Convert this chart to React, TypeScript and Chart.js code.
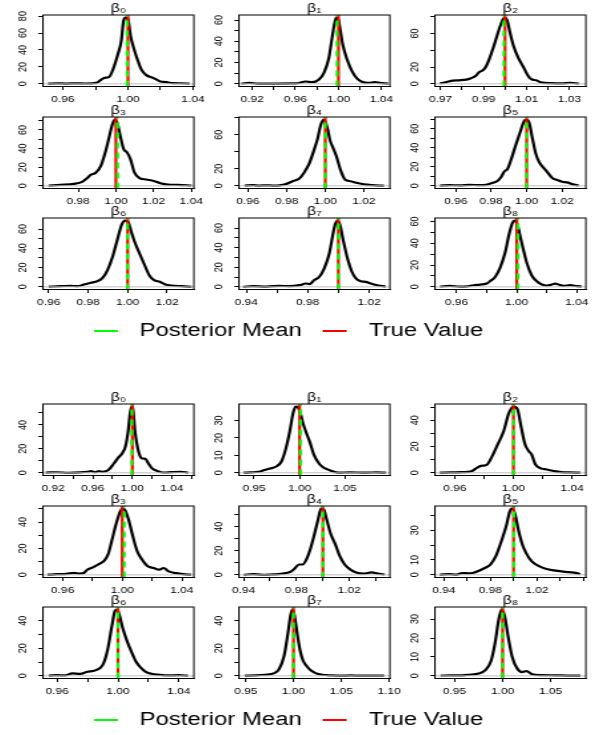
import React, { useEffect, useRef } from 'react';
import { Chart, registerables } from 'chart.js';

Chart.register(...registerables);

// ---------------- data ----------------
const TITLES = ['β₀', 'β₁', 'β₂', 'β₃', 'β₄', 'β₅', 'β₆', 'β₇', 'β₈'];
const LEGEND_LABELS = ['Posterior Mean', 'True Value'];

// upper figure: density curves (x = coefficient value, y = density)
const TOP_B0_X = [0.9508, 0.956, 0.962, 0.968, 0.974, 0.9805, 0.9836, 0.9856, 0.9883, 0.9908, 0.9938, 0.9959, 0.9973, 0.9986, 1.0, 1.0016, 1.0041, 1.0062, 1.0082, 1.0113, 1.0154, 1.0195, 1.0236, 1.0277, 1.0328, 1.0379];
const TOP_B0_Y = [0.2, 0.6, 0.3, 0.6, 0.4, 1.2, 5.1, 7.1, 7.9, 17, 34.9, 50.7, 74.5, 78.2, 76.4, 56.6, 38.8, 26.9, 17, 10.3, 7.1, 3.2, 2, 0.8, 0.7, 0.2];
const TOP_B1_X = [0.9099, 0.9175, 0.925, 0.94, 0.9604, 0.9696, 0.9757, 0.9819, 0.9865, 0.9911, 0.9941, 0.9966, 0.9981, 1.0002, 1.0018, 1.0039, 1.0079, 1.0125, 1.0171, 1.0217, 1.0278, 1.0339, 1.0385, 1.0462];
const TOP_B1_Y = [0.3, 0.9, 0.2, 0.3, 0.4, 2.2, 1.6, 4.1, 10.4, 24.6, 43.6, 57.8, 62.3, 59.4, 49.9, 37.3, 23.1, 12, 5.1, 1.9, 0.9, 1.6, 0.9, 0.3];
const TOP_B2_X = [0.9697, 0.9727, 0.9758, 0.9788, 0.9819, 0.9841, 0.9864, 0.9879, 0.9895, 0.991, 0.9925, 0.9948, 0.9971, 0.9989, 0.9998, 1.0009, 1.0024, 1.0039, 1.0062, 1.0085, 1.0107, 1.0122, 1.0145, 1.0168, 1.0214, 1.0259, 1.0305, 1.0343];
const TOP_B2_Y = [0.5, 2.1, 3.8, 4.2, 5, 6.7, 9.6, 13.8, 15.9, 20.1, 28.5, 45.3, 64.2, 76.2, 78.8, 76.2, 60, 45.3, 30.6, 20.1, 9.6, 5.5, 4.2, 1.7, 0.8, 0.5, 1.3, 0.3];
const TOP_B3_X = [0.9643, 0.9705, 0.9777, 0.9821, 0.9848, 0.9866, 0.9893, 0.992, 0.9946, 0.9964, 0.9982, 0.9996, 1.0009, 1.0023, 1.0041, 1.0059, 1.0077, 1.0098, 1.0125, 1.0161, 1.0196, 1.0241, 1.0277, 1.033, 1.0402];
const TOP_B3_Y = [0.3, 1.1, 2.2, 4.3, 8.3, 11.8, 14, 21.5, 37.7, 52.1, 66.4, 71, 66.4, 53.9, 39.5, 35.9, 28.7, 14.4, 8.3, 6.8, 5.4, 2.5, 1.4, 1.1, 0.4];
const TOP_B4_X = [0.9583, 0.9626, 0.966, 0.9694, 0.9729, 0.9763, 0.9797, 0.9831, 0.9866, 0.9891, 0.9917, 0.9943, 0.996, 0.9977, 0.9994, 1.0011, 1.0025, 1.004, 1.0058, 1.008, 1.0102, 1.0131, 1.0166, 1.02, 1.0243, 1.0303];
const TOP_B4_Y = [0.4, 0.8, 0.3, 0.6, 0.3, 0.6, 2.1, 5.4, 8.7, 15.7, 26.1, 42.7, 55.1, 71.6, 77.6, 67.5, 53, 44.7, 34.4, 17.8, 7.5, 5.4, 3.3, 1.7, 0.8, 0.2];
const TOP_B5_X = [0.9511, 0.9566, 0.9622, 0.9678, 0.9734, 0.9771, 0.9809, 0.9837, 0.9855, 0.9874, 0.9893, 0.9911, 0.9939, 0.9962, 0.9986, 0.9999, 1.0014, 1.0032, 1.0051, 1.007, 1.0092, 1.0116, 1.0144, 1.0172, 1.02, 1.0228, 1.0256, 1.0293];
const TOP_B5_Y = [0.3, 0.8, 0.5, 1.1, 0.7, 1.1, 3.2, 5.4, 9, 15.1, 18, 26.9, 43.1, 55.7, 68.2, 69.5, 66.4, 50.3, 34.1, 25.1, 19.7, 14.4, 8.3, 6.1, 4.3, 3.6, 1.8, 0.4];
const TOP_B6_X = [0.96, 0.966, 0.9711, 0.9745, 0.9779, 0.9813, 0.9847, 0.9873, 0.9898, 0.9924, 0.995, 0.997, 0.9987, 1.0001, 1.0018, 1.0035, 1.006, 1.0086, 1.0112, 1.0134, 1.0163, 1.0188, 1.0222, 1.0273, 1.0325];
const TOP_B6_Y = [0.2, 0.7, 1.1, 0.7, 2.4, 4.2, 5.9, 9.4, 17.5, 31.4, 50.6, 64.6, 68.8, 68, 57.6, 47.1, 34.9, 22.7, 11.2, 7, 5.2, 2.8, 1.4, 0.7, 0.1];
const TOP_B7_X = [0.9378, 0.9443, 0.953, 0.9616, 0.9681, 0.9746, 0.9789, 0.9811, 0.9843, 0.9876, 0.9908, 0.9941, 0.9962, 0.9979, 0.9995, 1.001, 1.0031, 1.0059, 1.0088, 1.0114, 1.0146, 1.0178, 1.0211, 1.0254, 1.0308];
const TOP_B7_Y = [0.1, 0.7, 0.3, 1, 0.7, 1.7, 3.4, 2.8, 6.9, 10.3, 18.9, 34.3, 51.5, 63.5, 67.5, 63.5, 48, 29.2, 15.4, 8.6, 5.8, 5.1, 3.4, 1.7, 0.2];
const TOP_B8_X = [0.9489, 0.9556, 0.9622, 0.9667, 0.9711, 0.9756, 0.98, 0.9822, 0.9856, 0.9889, 0.9922, 0.9951, 0.9973, 0.9989, 1.0004, 1.0033, 1.0067, 1.01, 1.0133, 1.0167, 1.02, 1.0233, 1.0256, 1.0278, 1.0311, 1.0356, 1.04, 1.0433];
const TOP_B8_Y = [0.3, 0.9, 0.2, 0.4, 1.5, 2.1, 3, 5.2, 9.1, 17.4, 31, 49.3, 59.1, 60.7, 56.9, 40.2, 21.9, 10.4, 5.2, 2.1, 1.2, 2.1, 3, 2.1, 0.9, 1.5, 0.6, 0.3];

// lower figure
const BOT_B0_X = [0.9123, 0.9238, 0.9354, 0.9469, 0.9546, 0.9585, 0.9623, 0.9662, 0.97, 0.9758, 0.9815, 0.9854, 0.99, 0.9931, 0.9958, 0.9977, 0.9992, 1.0008, 1.0027, 1.0054, 1.0092, 1.0131, 1.0162, 1.02, 1.0258, 1.0315, 1.0392, 1.0488, 1.0565];
const BOT_B0_Y = [0.2, 0.5, 0.1, 0.4, 0.9, 1.4, 0.5, 1.4, 0.8, 2.3, 8, 12.3, 16.6, 22.3, 35.1, 49.4, 55.2, 52.3, 35.1, 20.9, 12.3, 11.7, 8, 3.7, 1.4, 0.3, 0.6, 0.9, 0.2];
const BOT_B1_X = [0.9383, 0.9467, 0.955, 0.9613, 0.9676, 0.9738, 0.9801, 0.9851, 0.9893, 0.9927, 0.9956, 0.9981, 1.001, 1.004, 1.0073, 1.0115, 1.0157, 1.022, 1.0282, 1.0345, 1.0429, 1.0554, 1.0722, 1.0847, 1.0952];
const BOT_B1_Y = [0.1, 0.3, 0.6, 1.6, 2.5, 3.5, 6.5, 14.3, 24.1, 33.9, 37.9, 37.5, 33.9, 28, 23.1, 17.3, 10.4, 4.9, 2.5, 1.2, 0.1, 0.3, 0.1, 0.3, 0.1];
const BOT_B2_X = [0.9498, 0.9574, 0.9651, 0.9715, 0.9753, 0.9779, 0.9817, 0.9855, 0.9894, 0.9932, 0.997, 1.0001, 1.0027, 1.0052, 1.0078, 1.0103, 1.0124, 1.0149, 1.0187, 1.0226, 1.0277, 1.0328, 1.0379, 1.0456];
const BOT_B2_Y = [0.1, 0.3, 0.5, 1.3, 4, 5.3, 6.1, 12.7, 22, 31.3, 45.8, 50.4, 48.5, 35.2, 22, 16.7, 14, 6.6, 3.4, 2.6, 1.3, 0.5, 0.3, 0.1];
const BOT_B3_X = [0.9498, 0.9562, 0.9625, 0.9676, 0.9714, 0.974, 0.9765, 0.9803, 0.9846, 0.9879, 0.9905, 0.993, 0.9956, 0.9981, 0.9999, 1.0019, 1.0044, 1.007, 1.01, 1.0133, 1.0171, 1.021, 1.0248, 1.0278, 1.0311, 1.0362, 1.0425, 1.0463];
const BOT_B3_Y = [0.1, 0.5, 0.8, 1.5, 1, 1.3, 3.9, 5.7, 8.3, 10.8, 15.5, 25.8, 37.4, 46.5, 50.2, 49, 41.3, 29.7, 18.1, 11.6, 6.5, 5.2, 3.9, 5.2, 2.6, 1.3, 0.3, 0.1];
const BOT_B4_X = [0.94, 0.9472, 0.9544, 0.9602, 0.966, 0.9717, 0.9761, 0.979, 0.9818, 0.9847, 0.9876, 0.9905, 0.9934, 0.9963, 0.9986, 1.0006, 1.0029, 1.0058, 1.0093, 1.0127, 1.0165, 1.0208, 1.0251, 1.0309, 1.0367, 1.0425, 1.0468];
const BOT_B4_Y = [0.1, 0.6, 0.1, 0.3, 0.6, 1.4, 2.9, 5.7, 8.6, 8.6, 12.9, 21.4, 32.9, 45.7, 55, 54.3, 45.7, 34.3, 25.7, 15.7, 8.6, 4.3, 2, 1.1, 2, 0.9, 0.3];
const BOT_B5_X = [0.9365, 0.9445, 0.951, 0.9558, 0.9606, 0.9655, 0.9703, 0.9752, 0.98, 0.9848, 0.9897, 0.9935, 0.9968, 0.9987, 1.001, 1.0042, 1.0074, 1.0106, 1.0155, 1.0219, 1.0284, 1.0348, 1.0413, 1.0477, 1.0542, 1.0574];
const BOT_B5_Y = [0.1, 0.5, 0.2, 1.2, 1, 1.4, 2.8, 4.6, 6.9, 12.7, 23.1, 32.3, 42.7, 44.5, 41.6, 30, 20.8, 15, 9.2, 5.8, 3.9, 3, 2.3, 1.8, 1.2, 0.5];
const BOT_B6_X = [0.9545, 0.96, 0.965, 0.97, 0.975, 0.98, 0.985, 0.99, 0.993, 0.996, 0.998, 0.9995, 1.001, 1.003, 1.006, 1.009, 1.012, 1.015, 1.018, 1.022, 1.027, 1.033, 1.04, 1.046];
const BOT_B6_Y = [0.2, 0.5, 0.3, 1.8, 1.5, 3, 4, 8, 18, 36, 47, 48, 44, 35, 25, 17, 10, 6, 3, 1.5, 0.8, 0.3, 0.5, 0.1];
const BOT_B7_X = [0.949, 0.96, 0.97, 0.98, 0.985, 0.99, 0.994, 0.997, 0.999, 1.001, 1.004, 1.007, 1.01, 1.014, 1.018, 1.023, 1.03, 1.04, 1.05, 1.06, 1.07, 1.08, 1.095];
const BOT_B7_Y = [0.1, 0.3, 0.8, 2, 5, 14, 30, 44, 48, 44, 30, 18, 11, 7, 4, 2, 0.8, 0.3, 0.1, 0.3, 0.1, 0.2, 0.1];
const BOT_B8_X = [0.9355, 0.945, 0.955, 0.965, 0.975, 0.982, 0.988, 0.992, 0.996, 0.999, 1.002, 1.006, 1.01, 1.015, 1.02, 1.025, 1.03, 1.04, 1.055, 1.07, 1.081];
const BOT_B8_Y = [0.1, 0.3, 0.2, 0.6, 1.2, 3, 8, 17, 30, 35, 32, 20, 10, 4, 2, 2.5, 1, 0.4, 0.3, 0.1, 0.1];

// axis limits, ticks and labelled ticks
const TOP_XLIM = [[0.9477, 1.0406], [0.9077, 1.0477], [0.9674, 1.0376], [0.9613, 1.0414], [0.9554, 1.0334], [0.9483, 1.0334], [0.9571, 1.0336], [0.9352, 1.0336], [0.9456, 1.046]];
const TOP_XTICKS = [
  [0.96, 0.98, 1.0, 1.02, 1.04], [0.92, 0.94, 0.96, 0.98, 1.0, 1.02, 1.04], [0.97, 0.98, 0.99, 1.0, 1.01, 1.02, 1.03],
  [0.98, 1.0, 1.02, 1.04], [0.96, 0.98, 1.0, 1.02], [0.96, 0.98, 1.0, 1.02],
  [0.96, 0.98, 1.0, 1.02], [0.94, 0.96, 0.98, 1.0, 1.02], [0.96, 0.98, 1.0, 1.02, 1.04],
];
const TOP_XLABELS = [
  [0.96, 1.0, 1.04], [0.92, 0.96, 1.0, 1.04], [0.97, 0.99, 1.01, 1.03],
  [0.98, 1.0, 1.02, 1.04], [0.96, 0.98, 1.0, 1.02], [0.96, 0.98, 1.0, 1.02],
  [0.96, 0.98, 1.0, 1.02], [0.94, 0.98, 1.02], [0.96, 1.0, 1.04],
];
const TOP_YTICKS = [
  [0, 20, 40, 60, 80], [0, 10, 20, 30, 40, 50, 60], [0, 20, 40, 60, 80],
  [0, 10, 20, 30, 40, 50, 60, 70], [0, 20, 40, 60, 80], [0, 10, 20, 30, 40, 50, 60, 70],
  [0, 10, 20, 30, 40, 50, 60], [0, 10, 20, 30, 40, 50, 60], [0, 10, 20, 30, 40, 50, 60],
];
const TOP_YLABELS = [
  [0, 20, 40, 60, 80], [0, 20, 40, 60], [0, 20, 60],
  [0, 20, 40, 60], [0, 20, 60], [0, 20, 40, 60],
  [0, 20, 40, 60], [0, 20, 40, 60], [0, 20, 40, 60],
];
const TOP_TRUE = [1, 1, 1, 1, 1, 1, 1, 1, 1];
const TOP_MEAN = [0.9995, 0.9987, 0.9995, 1.0009, 1.0, 1.0, 1.0, 1.0, 1.0008];

const BOT_XLIM = [[0.9096, 1.0623], [0.9333, 1.0994], [0.9465, 1.0494], [0.9468, 1.0481], [0.9365, 1.0507], [0.9323, 1.0623], [0.9507, 1.0499], [0.9429, 1.101], [0.9296, 1.0867]];
const BOT_XTICKS = [
  [0.92, 0.94, 0.96, 0.98, 1.0, 1.02, 1.04, 1.06], [0.95, 1.0, 1.05], [0.96, 0.98, 1.0, 1.02, 1.04],
  [0.96, 0.98, 1.0, 1.02, 1.04], [0.94, 0.96, 0.98, 1.0, 1.02, 1.04], [0.94, 0.96, 0.98, 1.0, 1.02, 1.04, 1.06],
  [0.96, 0.98, 1.0, 1.02, 1.04], [0.95, 1.0, 1.05, 1.1], [0.95, 1.0, 1.05],
];
const BOT_XLABELS = [
  [0.92, 0.96, 1.0, 1.04], [0.95, 1.0, 1.05], [0.96, 1.0, 1.04],
  [0.96, 1.0, 1.04], [0.94, 0.98, 1.02], [0.94, 0.98, 1.02],
  [0.96, 1.0, 1.04], [0.95, 1.0, 1.05, 1.1], [0.95, 1.0, 1.05],
];
const BOT_YTICKS = [
  [0, 10, 20, 30, 40, 50], [0, 10, 20, 30], [0, 10, 20, 30, 40, 50],
  [0, 10, 20, 30, 40, 50], [0, 10, 20, 30, 40, 50], [0, 10, 20, 30, 40],
  [0, 10, 20, 30, 40], [0, 10, 20, 30, 40], [0, 10, 20, 30],
];
const BOT_YLABELS = [
  [0, 20, 40], [0, 10, 20, 30], [0, 20, 40],
  [0, 20, 40], [0, 20, 40], [0, 10, 30],
  [0, 20, 40], [0, 20, 40], [0, 10, 20, 30],
];
const BOT_TRUE = [1, 1, 1, 1, 1, 1, 1, 1, 1];
const BOT_MEAN = [0.9995, 1.001, 1.0, 1.0013, 1.0, 1.0003, 1.0, 1.0, 1.0];

const TOP_X = [TOP_B0_X, TOP_B1_X, TOP_B2_X, TOP_B3_X, TOP_B4_X, TOP_B5_X, TOP_B6_X, TOP_B7_X, TOP_B8_X];
const TOP_Y = [TOP_B0_Y, TOP_B1_Y, TOP_B2_Y, TOP_B3_Y, TOP_B4_Y, TOP_B5_Y, TOP_B6_Y, TOP_B7_Y, TOP_B8_Y];
const BOT_X = [BOT_B0_X, BOT_B1_X, BOT_B2_X, BOT_B3_X, BOT_B4_X, BOT_B5_X, BOT_B6_X, BOT_B7_X, BOT_B8_X];
const BOT_Y = [BOT_B0_Y, BOT_B1_Y, BOT_B2_Y, BOT_B3_Y, BOT_B4_Y, BOT_B5_Y, BOT_B6_Y, BOT_B7_Y, BOT_B8_Y];

// ---------------- layout / style ----------------
const SX = 1.33; // horizontal stretch of the whole figure
const FONT = "'Liberation Sans', Arial, Helvetica, sans-serif";
const COL_LEFT = [43, 239, 435];
const ROW_TOP = [15, 116.5, 218];
const GROUP_DY = [0, 389];
const LEGEND_Y = [331, 720];
const BOX_W = 151;
const BOX_H = 71.5;
const ML = 42, MR = 20, MT = 17, MB = 28;
const TITLE_SIZE = 12;
const TICK_SIZE = 9;
const TICK_LEN = 3.5;
const GREEN = '#00FF00';
const RED = '#FF0000';

const framePlugin = {
  id: 'frame',
  afterDatasetsDraw(chart: any) {
    const { ctx, chartArea: a } = chart;
    ctx.save();
    ctx.strokeStyle = '#000';
    ctx.lineWidth = 1;
    ctx.strokeRect(a.left, a.top, a.right - a.left, a.bottom - a.top);
    ctx.restore();
  },
};

type PanelProps = {
  title: string; xs: number[]; ys: number[]; xlim: number[]; xTicks: number[]; xLabels: number[];
  yTicks: number[]; yLabels: number[]; truth: number; mean: number; left: number; top: number;
};

function Panel(p: PanelProps) {
  const ref = useRef<HTMLCanvasElement>(null);
  const mlL = ML / SX;
  const boxWL = BOX_W / SX;
  const cw = Math.ceil(mlL + boxWL + MR / SX);
  const ch = Math.ceil(MT + BOX_H + MB);
  useEffect(() => {
    const peak = Math.max(...p.ys);
    const yMin = -0.04 * peak;
    const yMax = 1.04 * peak;
    const axisCommon = {
      grid: { drawOnChartArea: false, drawTicks: true, tickLength: TICK_LEN, color: '#000', lineWidth: 1 },
      border: { display: true, color: '#000', width: 1 },
    };
    const chart = new Chart(ref.current as HTMLCanvasElement, {
      type: 'line',
      data: {
        datasets: [
          { data: [{ x: p.mean, y: yMin }, { x: p.mean, y: yMax }], borderColor: GREEN, borderWidth: 2.2, borderDash: [6, 4], pointRadius: 0 },
          { data: [{ x: p.truth, y: yMin }, { x: p.truth, y: yMax }], borderColor: RED, borderWidth: 2.2, pointRadius: 0 },
          { data: [{ x: p.xlim[0], y: 0 }, { x: p.xlim[1], y: 0 }], borderColor: '#BEBEBE', borderWidth: 1, pointRadius: 0 },
          { data: p.xs.map((x, i) => ({ x, y: p.ys[i] })), borderColor: '#000', borderWidth: 2.2, pointRadius: 0, cubicInterpolationMode: 'monotone' },
        ],
      } as any,
      options: {
        animation: false,
        responsive: false,
        events: [],
        layout: { padding: { left: 0, right: cw - mlL - boxWL, top: MT - TITLE_SIZE, bottom: ch - MT - BOX_H - MB } },
        plugins: {
          legend: { display: false },
          tooltip: { enabled: false },
          title: { display: true, text: p.title, fullSize: false, padding: 0, color: '#000', font: { family: FONT, size: TITLE_SIZE, lineHeight: 1, weight: 'normal' } },
        },
        scales: {
          x: {
            type: 'linear', min: p.xlim[0], max: p.xlim[1], ...axisCommon,
            afterBuildTicks: (s: any) => { s.ticks = p.xTicks.map((v) => ({ value: v })); },
            afterFit: (s: any) => { s.height = MB; s.paddingLeft = 0; s.paddingRight = 0; },
            ticks: {
              autoSkip: false, maxRotation: 0, minRotation: 0, padding: 4.5, color: '#000',
              font: { family: FONT, size: TICK_SIZE },
              callback: (v: any) => (p.xLabels.includes(v) ? Number(v).toFixed(2) : ''),
            },
          },
          y: {
            type: 'linear', min: yMin, max: yMax, ...axisCommon,
            afterBuildTicks: (s: any) => { s.ticks = p.yTicks.map((v) => ({ value: v })); },
            afterFit: (s: any) => { s.width = mlL; s.paddingTop = 0; s.paddingBottom = 0; },
            ticks: {
              autoSkip: false, minRotation: 90, maxRotation: 90, crossAlign: 'center', padding: 6.5, color: '#000',
              font: { family: FONT, size: TICK_SIZE },
              callback: (v: any) => (p.yLabels.includes(v) ? String(v) : ''),
            },
          },
        },
      } as any,
      plugins: [framePlugin],
    });
    return () => chart.destroy();
  }, []);
  return (
    <canvas
      ref={ref}
      width={cw}
      height={ch}
      style={{ position: 'absolute', left: p.left - ML, top: p.top - MT, width: cw * SX, height: ch }}
    />
  );
}

function lineImage(color: string) {
  const c = document.createElement('canvas');
  c.width = 18;
  c.height = 2;
  const g = c.getContext('2d') as CanvasRenderingContext2D;
  g.fillStyle = color;
  g.fillRect(0, 0, 18, 2);
  return c;
}

const LEG_FONT = 18;
const LEG_PAD = 8.3;
const LEG_H = 90;
const LEG_DX = -15.5;

function Legend({ y }: { y: number }) {
  const ref = useRef<HTMLCanvasElement>(null);
  const lw = Math.round(597 / SX);
  useEffect(() => {
    const colors = [GREEN, RED];
    const imgs = colors.map(lineImage);
    const chart = new Chart(ref.current as HTMLCanvasElement, {
      type: 'line',
      data: {
        datasets: LEGEND_LABELS.map((label, i) => ({ label, data: [], borderColor: colors[i], backgroundColor: colors[i] })),
      },
      options: {
        animation: false,
        responsive: false,
        events: [],
        layout: { padding: 0 },
        scales: { x: { display: false }, y: { display: false } },
        plugins: {
          tooltip: { enabled: false },
          legend: {
            display: true,
            position: 'top',
            maxHeight: LEG_H,
            labels: {
              usePointStyle: true,
              pointStyleWidth: 33,
              padding: LEG_PAD,
              color: '#000',
              font: { family: FONT, size: LEG_FONT },
              generateLabels: (c: any) =>
                c.data.datasets.map((d: any, i: number) => ({
                  text: d.label, fillStyle: colors[i], strokeStyle: colors[i], lineWidth: 0,
                  pointStyle: imgs[i], hidden: false, datasetIndex: i,
                })),
            },
          },
        },
      } as any,
    });
    return () => chart.destroy();
  }, []);
  return (
    <canvas
      ref={ref}
      width={lw}
      height={LEG_H}
      style={{ position: 'absolute', left: LEG_DX, top: y - LEG_PAD - LEG_FONT / 2, width: lw * SX, height: LEG_H }}
    />
  );
}

export default function App() {
  const groups = [
    { X: TOP_X, Y: TOP_Y, XLIM: TOP_XLIM, XT: TOP_XTICKS, XL: TOP_XLABELS, YT: TOP_YTICKS, YL: TOP_YLABELS, T: TOP_TRUE, M: TOP_MEAN },
    { X: BOT_X, Y: BOT_Y, XLIM: BOT_XLIM, XT: BOT_XTICKS, XL: BOT_XLABELS, YT: BOT_YTICKS, YL: BOT_YLABELS, T: BOT_TRUE, M: BOT_MEAN },
  ];
  return (
    <div style={{ position: 'absolute', left: 0, top: 0, width: 597, height: 735, background: '#fff', overflow: 'hidden' }}>
      {groups.map((g, gi) =>
        TITLES.map((t, i) => (
          <Panel
            key={`${gi}-${i}`}
            title={t}
            xs={g.X[i]}
            ys={g.Y[i]}
            xlim={g.XLIM[i]}
            xTicks={g.XT[i]}
            xLabels={g.XL[i]}
            yTicks={g.YT[i]}
            yLabels={g.YL[i]}
            truth={g.T[i]}
            mean={g.M[i]}
            left={COL_LEFT[i % 3]}
            top={ROW_TOP[Math.floor(i / 3)] + GROUP_DY[gi]}
          />
        ))
      )}
      {LEGEND_Y.map((y, i) => (
        <Legend key={i} y={y} />
      ))}
    </div>
  );
}
